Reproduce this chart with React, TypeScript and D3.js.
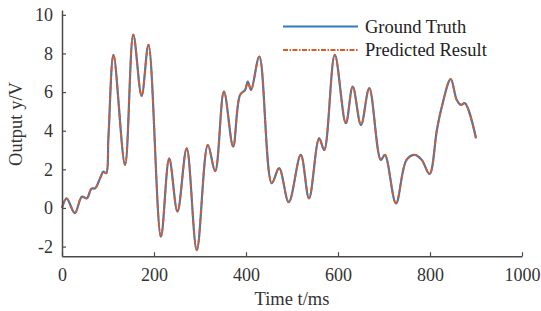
import { useEffect, useRef } from "react";
import * as d3 from "d3";

// time samples (ms)
const timeMs = [
  0, 10, 28, 43, 54, 64, 72, 83, 90, 96, 101, 112, 137, 155, 173, 188, 215, 233, 251, 271,
  293, 317, 333, 352, 372, 387, 398, 404, 411, 429, 456, 472, 493, 519, 537, 559, 570, 593,
  617, 632, 650, 668, 693, 702, 726, 749, 767, 782, 799, 815, 825, 845, 858, 867, 876, 900,
];

const groundTruth = [
  0, 0.5, -0.27, 0.58, 0.5, 1.0, 1.02, 1.55, 1.88, 1.8, 3.7, 7.93, 2.23, 8.98, 5.8, 8.45, -1.49,
  2.57, -0.19, 3.09, -2.18, 3.26, 1.9, 6.03, 3.18, 5.85, 6.11, 6.54, 6.11, 7.84, 1.28, 2.06, 0.3,
  2.75, 0.5, 3.61, 3.0, 7.93, 4.39, 6.29, 4.3, 6.2, 2.49, 2.75, 0.24, 2.49, 2.75, 2.49, 1.76,
  4.04, 5.17, 6.67, 5.6, 5.34, 5.42, 3.61,
];

const predicted = [
  0, 0.5, -0.27, 0.58, 0.5, 1.0, 1.02, 1.55, 1.88, 1.8, 3.7, 7.93, 2.23, 8.98, 5.8, 8.45, -1.49,
  2.57, -0.19, 3.09, -2.18, 3.26, 1.9, 6.03, 3.18, 5.85, 6.11, 6.54, 6.11, 7.84, 1.28, 2.06, 0.3,
  2.75, 0.5, 3.61, 3.0, 7.93, 4.39, 6.29, 4.3, 6.2, 2.49, 2.75, 0.24, 2.49, 2.75, 2.49, 1.76,
  4.04, 5.17, 6.67, 5.6, 5.34, 5.42, 3.61,
];

const xTicks = [0, 200, 400, 600, 800, 1000];
const yTicks = [-2, 0, 2, 4, 6, 8, 10];
const seriesNames = ["Ground Truth", "Predicted Result"];

const BLUE = "#2f7dc0";
const ORANGE = "#dd5a26";
const AXIS = "#4a4a4a";
const FONT = "'Liberation Serif', 'Times New Roman', serif";

export default function App() {
  const svgRef = useRef<SVGSVGElement | null>(null);

  useEffect(() => {
    if (!svgRef.current) return;
    const svg = d3.select(svgRef.current);
    svg.selectAll("*").remove();

    const x = d3.scaleLinear().domain([0, 1000]).range([62, 522]);
    const y = d3.scaleLinear().domain([-2.5, 10.25]).range([256.25, 10]);

    const line = d3
      .line<number>()
      .x((_d, i) => x(timeMs[i]))
      .y(d => y(d))
      .curve(d3.curveCatmullRom.alpha(0.5));

    // series
    svg.append("path")
      .attr("d", line(groundTruth))
      .attr("fill", "none")
      .attr("stroke", BLUE)
      .attr("stroke-width", 2.2);
    svg.append("path")
      .attr("d", line(predicted))
      .attr("fill", "none")
      .attr("stroke", ORANGE)
      .attr("stroke-width", 1.8)
      .attr("stroke-dasharray", "5,1.5,1.5,1.5");

    const fmt = (d: d3.NumberValue) => String(d); // plain hyphen minus, no thousands comma

    // axes (MATLAB style: inward ticks, no box)
    const xAxis = svg.append("g").attr("transform", `translate(0,${y(-2.5)})`)
      .call(d3.axisBottom(x).tickValues(xTicks).tickFormat(fmt).tickSizeInner(-4).tickSizeOuter(0).tickPadding(12));
    const yAxis = svg.append("g").attr("transform", `translate(${x(0)},0)`)
      .call(d3.axisLeft(y).tickValues(yTicks).tickFormat(fmt).tickSizeInner(-4).tickSizeOuter(0).tickPadding(9));

    [xAxis, yAxis].forEach(g => {
      g.select(".domain").attr("stroke", AXIS).attr("stroke-width", 1.5);
      g.selectAll(".tick line").attr("stroke", AXIS).attr("stroke-width", 1.2);
      g.selectAll("text")
        .attr("fill", "#333")
        .style("font-family", FONT)
        .style("font-size", "18px");
    });

    // axis titles
    svg.append("text")
      .attr("x", (x(0) + x(1000)) / 2)
      .attr("y", 305)
      .attr("text-anchor", "middle")
      .attr("fill", "#333")
      .style("font-family", FONT)
      .style("font-size", "18.5px")
      .text("Time t/ms");
    svg.append("text")
      .attr("transform", "translate(22,124) rotate(-90)")
      .attr("text-anchor", "middle")
      .attr("fill", "#333")
      .style("font-family", FONT)
      .style("font-size", "18.5px")
      .text("Output y/V");

    // legend
    const legend = svg.append("g").attr("transform", "translate(283,0)");
    seriesNames.forEach((name, i) => {
      const ly = 26.5 + i * 23.5;
      legend.append("line")
        .attr("x1", 0).attr("x2", 75).attr("y1", ly).attr("y2", ly)
        .attr("stroke", i === 0 ? BLUE : ORANGE)
        .attr("stroke-width", 1.8)
        .attr("stroke-dasharray", i === 0 ? null : "5,1.5,1.5,1.5");
      legend.append("text")
        .attr("x", 82).attr("y", ly)
        .attr("dy", "0.35em")
        .attr("fill", "#222")
        .style("font-family", FONT)
        .style("font-size", "18.5px")
        .text(name);
    });
  }, []);

  return (
    <svg
      ref={svgRef}
      width={541}
      height={311}
      style={{ position: "absolute", left: 0, top: 0, background: "#fff", display: "block" }}
    />
  );
}
